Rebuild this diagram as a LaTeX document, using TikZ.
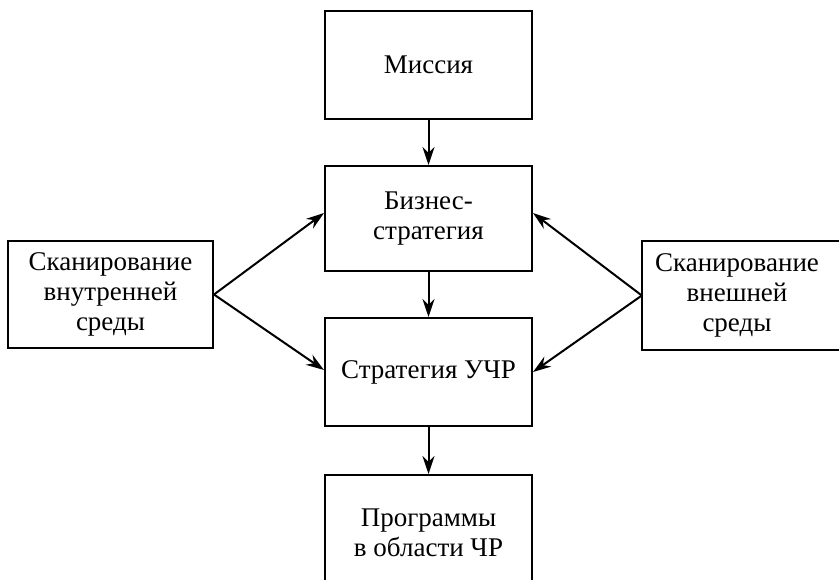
\documentclass[tikz,border=0pt]{standalone}
\usepackage{fontspec}
\setmainfont{Liberation Serif}
\usetikzlibrary{arrows.meta}
\begin{document}
\begin{tikzpicture}[x=1pt,y=1pt,
  boxline/.style={line width=2pt},
  box/.style={draw, boxline, rectangle, inner sep=0pt, align=center,
    font=\fontsize{27}{30}\selectfont},
  txt/.style={align=center, font=\fontsize{27}{30}\selectfont},
  arr/.style={line width=2pt, -{Stealth[length=18pt,width=12pt,inset=6pt]}}]
\useasboundingbox (0,0) rectangle (839,-579);
\clip (0,0) rectangle (839,-579);
\node[box, minimum width=207pt, minimum height=108pt] (mis) at (428.5,-65) {Миссия};
\node[box, minimum width=207pt, minimum height=105pt] (biz) at (428.5,-218.5) {Бизнес-\\стратегия};
\node[box, minimum width=207pt, minimum height=108pt] (hr) at (428.5,-372) {Стратегия УЧР};
\node[box, minimum width=207pt, minimum height=115pt] (prog) at (428.5,-532.5) {Программы\\в области ЧР};
\node[box, minimum width=205pt, minimum height=107pt] (lint) at (110.5,-294.5) {Сканирование\\внутренней\\среды};
\node[txt, minimum width=240pt, minimum height=109pt, inner sep=0pt,
  label={[txt, xshift=-25pt]center:{Сканирование\\внешней\\среды}}] (rext) at (762,-295.5) {};
\draw[boxline] (rext.north east) -- (rext.north west) -- (rext.south west) -- (rext.south east);
\draw[arr] (mis.south) -- (biz.north);
\draw[arr] (biz.south) -- (hr.north);
\draw[arr] (hr.south) -- (prog.north);
\draw[arr] (lint.east) -- (biz.west |- 0,-213);
\draw[arr] (lint.east) -- (hr.west |- 0,-370);
\draw[arr] (rext.west) -- (biz.east |- 0,-213);
\draw[arr] (rext.west) -- (hr.east |- 0,-372);
\end{tikzpicture}
\end{document}
